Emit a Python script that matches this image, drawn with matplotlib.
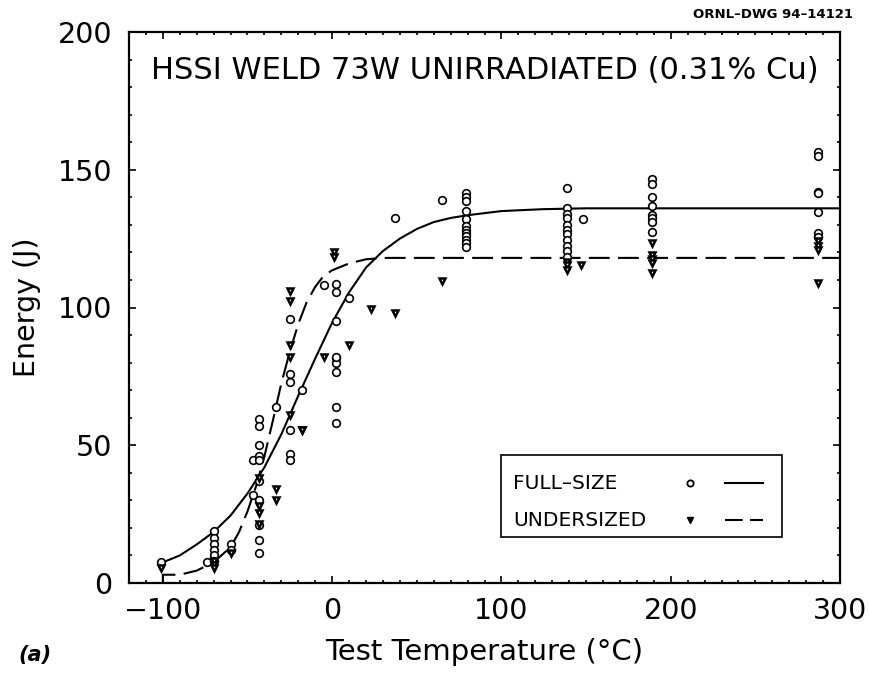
import matplotlib
matplotlib.use("Agg")
import matplotlib.pyplot as plt
from matplotlib.lines import Line2D
from matplotlib.patches import Rectangle
from matplotlib.ticker import MultipleLocator

# full-size specimens (open circles)
full_temp = [-101, -74,
             -70, -70, -70, -70, -70, -70,
             -60, -60,
             -47, -47,
             -43, -43, -43, -43, -43, -43, -43, -43, -43, -43,
             -33,
             -25, -25, -25, -25, -25, -25,
             -18, -5,
             2, 2, 2, 2, 2, 2, 2, 2, 2,
             10, 37, 65,
             79, 79, 79, 79, 79, 79, 79, 79, 79, 79, 79, 79,
             139, 139, 139, 139, 139, 139, 139, 139, 139, 139, 139,
             148,
             189, 189, 189, 189, 189, 189, 189, 189,
             287, 287, 287, 287, 287, 287, 287]
full_energy = [7.5, 7.5,
               19, 16.5, 14, 12, 10, 8,
               14, 12,
               32, 44.5,
               59.5, 57, 50, 46, 44.5, 37, 30, 21, 15.5, 11,
               64,
               96, 76, 73, 55.5, 47, 44.5,
               70, 108,
               108.5, 105.5, 95, 81.5, 80, 76.5, 64, 58, 82,
               103.5, 132.5, 139,
               141.5, 140, 138.5, 135, 132, 129.5, 128, 127, 126, 124.5, 123.5, 122,
               143.5, 136, 134, 132.5, 130, 128, 126.5, 124.5, 122.5, 120.5, 118.5,
               132,
               146.5, 145, 140, 137, 133.5, 132.5, 131, 127.5,
               156.5, 155, 142, 141.5, 134.5, 127, 125.5]

# undersized specimens (triangles)
under_temp = [-101,
              -70, -70, -70,
              -60,
              -43, -43, -43, -43,
              -33, -33,
              -25, -25, -25, -25, -25,
              -18, -18, -5,
              1, 1, 10,
              23, 37, 65,
              139, 139, 139,
              147,
              189, 189, 189, 189, 189,
              287, 287, 287, 287]
under_energy = [5.5,
                8, 6.5, 5.5,
                11,
                38, 28, 25.5, 21.5,
                34, 30,
                106, 102.5, 86.5, 82, 61,
                55.5, 55.5, 82,
                120, 118.5, 86.5,
                99.5, 98, 109.5,
                116.5, 115.5, 113.5,
                115.5,
                123.5, 119, 117.5, 116, 112.5,
                124, 122.5, 121, 109]

# fitted curves
fit_full_temp = [-100, -90, -80, -70, -60, -50, -40, -30, -20, -10, 0, 10, 20,
                 30, 40, 50, 60, 70, 80, 100, 125, 150, 200, 300]
fit_full_energy = [7.5, 10, 14, 18.5, 24.5, 32.5, 42, 54, 68, 81.5, 94.5, 105.5,
                   114.5, 120.5, 125, 128.5, 131, 132.5, 133.5, 135, 135.7, 136, 136, 136]

fit_under_temp = [-100, -100, -90, -80, -70, -60, -55, -50, -45, -40, -35, -30, -25,
                  -20, -15, -10, -5, 0, 10, 20, 30, 50, 300]
fit_under_energy = [0, 3, 3, 4.5, 7.5, 13, 18.5, 26, 35, 46, 59, 72.5, 84,
                    94, 102, 107.5, 111.5, 113.5, 116, 117.5, 118, 118, 118]

x_ticks = [-100, 0, 100, 200, 300]
y_ticks = [0, 50, 100, 150, 200]

plt.rcParams['font.family'] = ['DejaVu Sans']

fig = plt.figure(figsize=(8.7, 6.73), dpi=100)
ax = fig.add_axes([129 / 870, 90 / 673, 711 / 870, 551 / 673])

ax.plot(fit_full_temp, fit_full_energy, color='black', lw=1.5)
ax.plot(fit_under_temp, fit_under_energy, color='black', lw=1.5, dashes=(10, 4))
ax.plot(full_temp, full_energy, 'o', ms=5.5, mfc='white', mec='black', mew=1.2, ls='none')
ax.plot(under_temp, under_energy, 'v', ms=5, mfc='white', mec='black', mew=1.8, ls='none')

ax.set_xlim(-120, 300)
ax.set_ylim(0, 200)
ax.set_xticks(x_ticks)
ax.set_yticks(y_ticks)
ax.xaxis.set_minor_locator(MultipleLocator(10))
ax.yaxis.set_minor_locator(MultipleLocator(10))
ax.tick_params(which='both', direction='in', top=True, right=True, width=1.2)
ax.tick_params(which='major', length=5)
ax.tick_params(which='minor', length=2.5)
ax.tick_params(axis='x', which='major', labelsize=20.5, pad=10)
ax.tick_params(axis='y', which='major', labelsize=20.5, pad=12)
for s in ax.spines.values():
    s.set_linewidth(1.6)

ax.set_xlabel('Test Temperature (°C)', fontsize=21)
ax.set_ylabel('Energy (J)', fontsize=20.5)
ax.xaxis.set_label_coords(0.5, -0.1)
ax.yaxis.set_label_coords(-0.124, 0.5)

ax.text(0.0305, 0.93, 'HSSI WELD 73W UNIRRADIATED (0.31% Cu)', transform=ax.transAxes,
        fontsize=22, va='center', ha='left')

# legend box drawn by hand (label, marker, line order)
ax.add_patch(Rectangle((0.523, 0.0835), 0.395, 0.1485, transform=ax.transAxes,
                       fill=False, ec='black', lw=1.2, zorder=5))
ax.text(0.540, 0.181, 'FULL\u2013SIZE', transform=ax.transAxes, fontsize=14.5, va='center')
ax.text(0.540, 0.114, 'UNDERSIZED', transform=ax.transAxes, fontsize=14.5, va='center')
ax.add_line(Line2D([0.789], [0.181], transform=ax.transAxes, marker='o', ms=4.5,
                   mfc='white', mec='black', mew=1.3, ls='none'))
ax.add_line(Line2D([0.789], [0.114], transform=ax.transAxes, marker='v', ms=5,
                   mfc='black', mec='black', ls='none'))
ax.add_line(Line2D([0.838, 0.892], [0.181, 0.181], transform=ax.transAxes,
                   color='black', lw=1.5))
ax.add_line(Line2D([0.838, 0.892], [0.114, 0.114], transform=ax.transAxes,
                   color='black', lw=1.5, dashes=(8.5, 3.5)))

fig.text(853 / 870, 1 - 14 / 673, 'ORNL\u2013DWG 94\u201314121', ha='right', va='center',
         fontsize=9.5, fontweight='bold')
fig.text(18 / 870, 1 - 655 / 673, '(a)', ha='left', va='center', fontsize=15,
         fontweight='bold', style='italic')

fig.savefig('out.png', dpi=100)
